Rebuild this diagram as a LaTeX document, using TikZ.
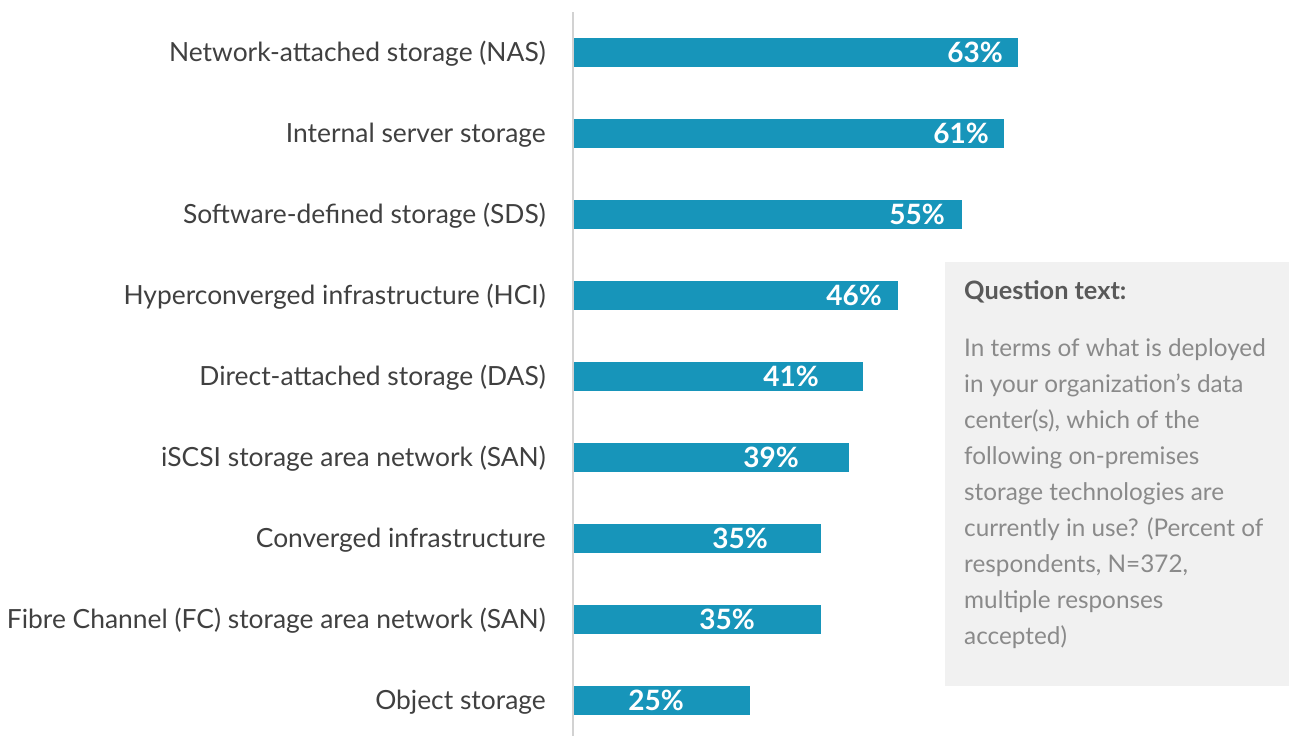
\documentclass[tikz,border=0pt]{standalone}
\usepackage{fontspec}
\setmainfont{Lato}
\usetikzlibrary{positioning}
\definecolor{BarBlue}{RGB}{23,149,186}
\definecolor{AxisGray}{RGB}{210,210,210}
\definecolor{LabelGray}{RGB}{64,64,64}
\definecolor{BoxGray}{RGB}{241,241,241}
\definecolor{HeadGray}{RGB}{89,89,89}
\definecolor{BodyGray}{RGB}{138,138,138}

\begin{document}
\begin{tikzpicture}[x=1pt,y=-1pt,
  catlabel/.style={anchor=base east, text=LabelGray, inner sep=0pt,
    font=\fontsize{26.4}{30}\selectfont},
  pctlabel/.style={anchor=base, text=white, inner sep=0pt,
    font=\fontsize{28}{30}\selectfont\bfseries},
  barfill/.style={fill=BarBlue}]
  \path[use as bounding box] (0,0) rectangle (1289,736);

  % question box
  \fill[BoxGray] (945,262) rectangle (1289,686);
  \node[anchor=base west, inner sep=0pt, text=HeadGray,
    font=\fontsize{25.3}{30}\selectfont\bfseries] (qhead) at (964,299) {Question text:};
  \node[anchor=north west, inner sep=0pt, align=left, text=BodyGray,
    font=\fontsize{24.3}{36}\selectfont] (qbody) at (964,338) {%
    In terms of what is deployed\\
    in your organization’s data\\
    center(s), which of the\\
    following on-premises\\
    storage technologies are\\
    currently in use? (Percent of\\
    respondents, N=372,\\
    multiple responses\\
    accepted)};

  % bars
  \foreach \i/\v/\px/\t in {
      1/63/975/Network-attached storage (NAS),
      2/61/961/Internal server storage,
      3/55/917/Software-defined storage (SDS),
      4/46/854/Hyperconverged infrastructure (HCI),
      5/41/791/Direct-attached storage (DAS),
      6/39/771/iSCSI storage area network (SAN),
      7/35/740/Converged infrastructure,
      8/35/727/Fibre Channel (FC) storage area network (SAN),
      9/25/656/Object storage} {
    \pgfmathsetmacro{\yc}{52+81*(\i-1)}
    \fill[barfill] (574,\yc-14.5) rectangle ({574+7.05*\v},\yc+14.5);
    \node[catlabel] (lbl-\i) at (546,\yc+9.5) {\t};
    \node[pctlabel] (pct-\i) at (\px,\yc+10) {\v\%};
  }

  % axis
  \draw[AxisGray, line width=1.5pt] (573,12) -- (573,736);
\end{tikzpicture}
\end{document}
